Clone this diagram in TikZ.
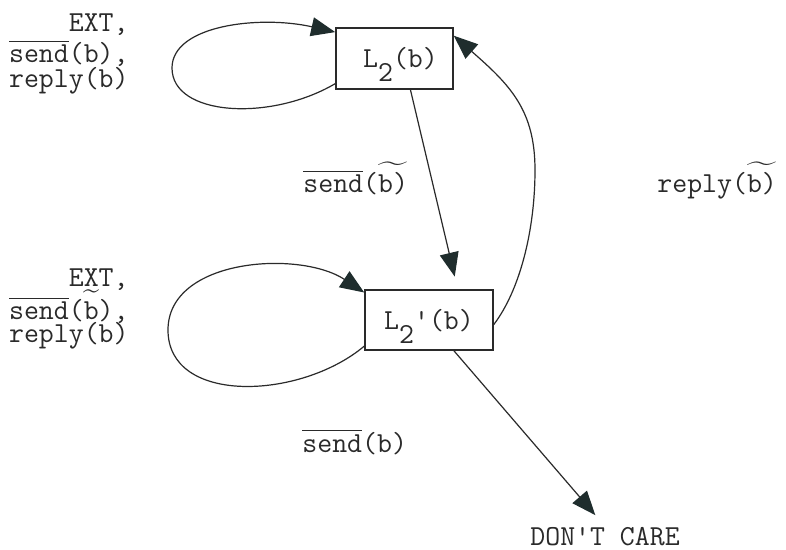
\documentclass[tikz,border=0pt]{standalone}
\usepackage{exscale}
\usetikzlibrary{arrows.meta}
\definecolor{ink}{HTML}{2A2A2A}
\definecolor{head}{HTML}{1F2D2D}
% bar over a word, tilde over a few characters
\newcommand\barover[1]{$\overline{\hbox{#1}}$}
\newcommand\tildeover[1]{$\widetilde{\hbox{\rule{0pt}{11pt}#1}}$}
\newcommand\sqt{\textquotesingle}
\newcommand\lowtwo{\raisebox{-7pt}{2}}
\begin{document}
\begin{tikzpicture}[x=0.5pt,y=-0.5pt,
  every node/.style={font=\fontsize{14.5}{16}\selectfont\ttfamily, text=ink},
  state/.style={draw=ink, line width=0.8pt, rectangle, inner sep=0pt,
                text height=10pt, text depth=0.5pt},
  lbl/.style={inner sep=0pt},
  conn/.style={draw=ink, line width=0.6pt,
               -{Triangle[length=12pt,width=9.5pt,color=head,fill=head]}},
]
\fill[white] (0,0) rectangle (786,550);
\useasboundingbox (0,0) rectangle (786,550);

% states
\node[state, minimum width=58.5pt, minimum height=30.5pt] (L2) at (394.5,58.5)
  {\hspace*{6pt}L\lowtwo(b)};
\node[state, minimum width=64pt, minimum height=30pt] (L2p) at (429,320)
  {L\lowtwo\sqt(b)};

% labels of the self-loop on L2(b)
\node[lbl, anchor=base east] (la1) at (129,32) {EXT,};
\node[lbl, anchor=base east] (la2) at (129,63) {\barover{send}(b),};
\node[lbl, anchor=base east] (la3) at (129,88) {reply(b)};

% labels of the self-loop on L2'(b)
\node[lbl, anchor=base east] (lb1) at (129,287) {EXT,};
\node[lbl, anchor=base east] (lb2) at (129,320) {\barover{send}(\tildeover{b}),};
\node[lbl, anchor=base east] (lb3) at (129,343) {reply(b)};

% transition labels
\node[lbl, anchor=base west] (lsend) at (303,193) {\barover{send}(\tildeover{b)}};
\node[lbl, anchor=base west] (lreply) at (657,193) {reply(\tildeover{b)}};
\node[lbl, anchor=base west] (lout) at (302,452) {\barover{send}(b)};
\node[lbl, anchor=base west] (dc) at (530,545) {DON\sqt T CARE};

% self-loops
\draw[conn] (L2.203.5) .. controls (270,122) and (172,116) .. (172,68)
  .. controls (172,25) and (260,15) .. (L2.156.5);
\draw[conn] (L2p.202.9) .. controls (300,400) and (168,405) .. (168,330)
  .. controls (168,258) and (300,250) .. (L2p.157.9);

% transitions between the states
\draw[conn, shorten >=6.5pt] (L2.-63) -- (L2p.47);
\draw[conn] (L2p.-4.5) .. controls (520,290) and (535,230) .. (535,170)
  .. controls (535,110) and (510,85) .. (L2.21.9);
\draw[conn, shorten >=7.5pt] (L2p.-51.3) -- (dc.north);
\end{tikzpicture}
\end{document}
